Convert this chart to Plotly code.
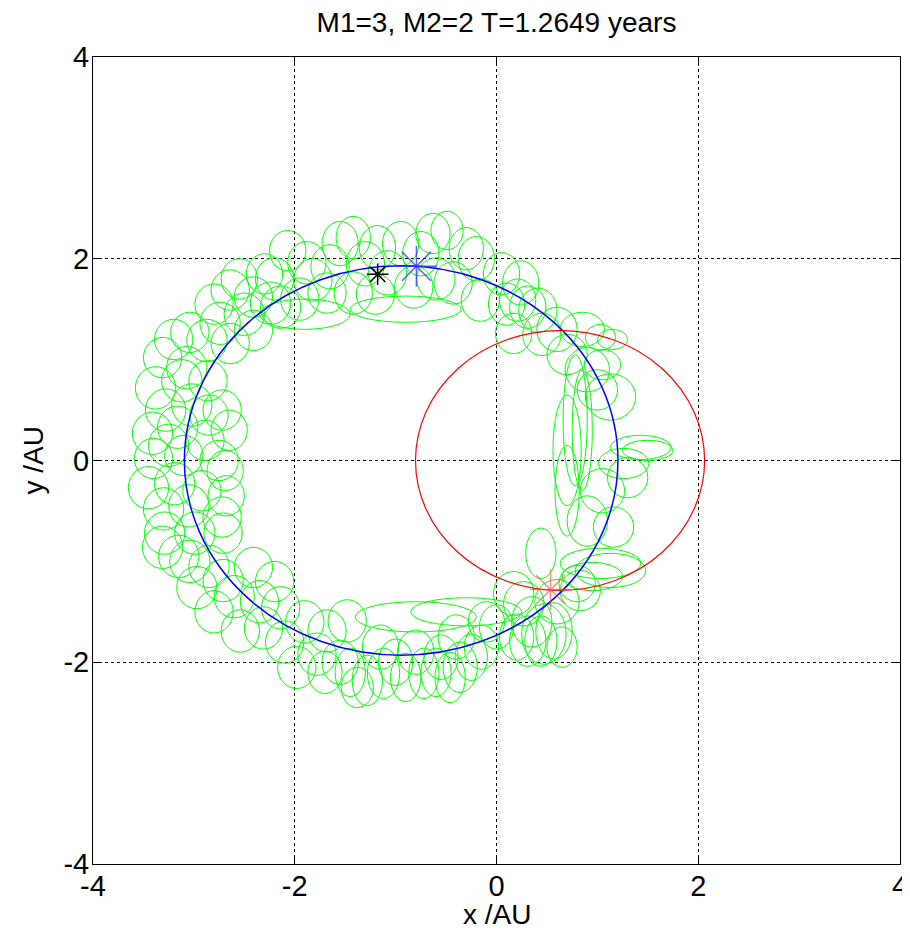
import plotly.graph_objects as go

# ---------------- data (units: AU) ----------------
TITLE = "M1=3, M2=2 T=1.2649 years"
TICKS = [-4, -2, 0, 2, 4]
TICK_LABELS = ["-4", "-2", "0", "2", "4"]

# star orbits (ellipses): centre x, centre y, semi-axis x, semi-axis y
ORBIT_NAMES = ["M2 orbit", "M1 orbit"]
ORBIT_CX = [-0.945, 0.63]
ORBIT_CY = [0.0, 0.0]
ORBIT_A = [2.149, 1.433]
ORBIT_B = [1.93, 1.287]
ORBIT_COLORS = ["#0000ff", "#ff0000"]

# current positions of the bodies: planet, M2, M1
BODY_X = [-1.178, -0.794, 0.536]
BODY_Y = [1.846, 1.925, -1.28]
BODY_COLORS = ["black", "rgba(40,40,255,0.75)", "rgba(255,60,60,0.6)"]

# planet trajectory loops (green): loop centre and half widths
LOOP_X = [
    -3.38, -3.12, -2.86, -3.41, -3.16, -2.89, -3.45, -3.19, -2.92, -2.69,
    -3.29, -2.99, -2.72, -2.72, -3.40, -3.10, -2.85,
    -3.31, -3.07, -3.04, -2.87, -2.74, -2.64, -2.64, -2.41, -2.41, -2.24,
    -2.14, -2.07, -1.88, -1.82, -1.68, -2.30,
    -1.65, -1.42, -1.42, -1.18, -1.08, -0.82, -0.63, -0.49, -0.43, -0.16,
    -0.20, 0.05, 0.24, 0.31, 0.17,
    0.21, 0.41, 0.60, 0.85, 1.03, 1.13, 0.90,
    0.78, 0.70, 1.43, 1.26, 1.30, 1.16, 1.05,
    1.03, 1.13, 0.83, 0.80, 0.27, 0.47, 0.57, 0.31, 0.44, 0.17, 0.44,
    -1.28, -1.12, -0.72, -0.46, -0.36, -1.00, -0.80, -0.55, -0.15, 0.00,
    -0.80, -0.30,
    -3.31, -3.04, -2.71, -2.97, -2.71, -2.41, -2.54, -2.31, -2.14, -1.98,
    -1.78, -1.68, -1.48, -1.38, -1.55,
    -0.90, -1.90,
    -2.75, -2.68, -2.65, -3.28, -3.30, -3.05, -3.02, -3.25, -3.20,
    -2.50, -2.20, -1.95, -2.55, -2.80,
    -1.55, -1.30, -0.95, -0.75, -0.30, -0.60, -1.20, 0.10, 0.45,
    1.15, 0.70, 1.00,
    0.85, 1.50, 1.05, 0.90, 0.70,
    0.95, 0.60, 0.35, 0.65, 0.20,
    -1.45, -0.90, -0.60, -0.25, -1.15, -0.40, -0.10,
    -3.15, -2.85, -2.60, -2.80, -2.35, -2.10, -1.90, -1.70, -2.20,
]
LOOP_Y = [
    0.72, 0.79, 0.79, 0.27, 0.33, 0.20, -0.27, -0.23, -0.30, -0.10,
    -0.72, -0.72, -0.56, 0.50, 0.02, 0.05, 0.45,
    1.02, 0.92, 1.27, 1.19, 1.36, 1.16, 1.69, 1.62, 1.29, 1.56,
    1.52, 2.08, 1.96, 1.79, 1.66, 1.85,
    1.92, 2.21, 1.66, 2.11, 1.86, 1.72, 2.25, 2.28, 1.76, 1.59,
    2.00, 1.85, 1.76, 1.52, 1.26,
    1.59, 1.49, 1.30, 1.30, 1.22, 0.63, 0.90,
    0.40, 0.10, 0.13, -0.03, -0.17, -0.66, 0.95,
    -1.02, -1.09, -1.29, -1.22, -1.42, -1.72, -1.69, -1.79, -1.79, -1.32, -0.92,
    -2.18, -2.11, -2.11, -2.15, -2.05, -2.00, -1.90, -1.95, -1.85, -1.65,
    -1.55, -1.50,
    -0.86, -1.00, -0.72, -1.26, -1.19, -1.06, -1.69, -1.66, -1.46, -2.05,
    -1.92, -1.69, -1.59, -2.25, -2.00,
    1.50, 1.45,
    0.00, -0.35, 0.30, 0.50, -0.48, -0.45, 0.55, 0.15, 1.20,
    1.45, 1.80, 1.60, 1.80, 1.55,
    2.15, 1.95, 2.15, 2.05, 2.10, 1.80, 1.65, 1.55, 1.25,
    1.20, 1.05, 0.70,
    0.30, 0.10, -0.30, -0.60, -0.30,
    -1.15, -1.40, -1.60, -1.85, -1.75,
    -2.10, -2.15, -2.10, -1.95, -1.85, -1.75, -1.60,
    -0.95, -1.05, -1.35, -1.50, -1.40, -1.80, -1.60, -2.10, -1.20,
]
LOOP_RX = [
    0.20, 0.20, 0.19, 0.20, 0.20, 0.19, 0.20, 0.20, 0.19, 0.18,
    0.20, 0.20, 0.19, 0.19, 0.19, 0.19, 0.19,
    0.19, 0.20, 0.19, 0.20, 0.20, 0.19, 0.19, 0.19, 0.19, 0.20,
    0.20, 0.18, 0.19, 0.19, 0.19, 0.18,
    0.19, 0.17, 0.19, 0.18, 0.19, 0.19, 0.17, 0.16, 0.19, 0.19,
    0.18, 0.18, 0.18, 0.18, 0.18,
    0.18, 0.19, 0.20, 0.22, 0.15, 0.25, 0.22,
    0.12, 0.14, 0.30, 0.25, 0.20, 0.20, 0.18,
    0.40, 0.35, 0.20, 0.18, 0.20, 0.22, 0.18, 0.18, 0.16, 0.20, 0.15,
    0.15, 0.16, 0.15, 0.15, 0.17, 0.17, 0.18, 0.17, 0.17, 0.17,
    0.60, 0.55,
    0.20, 0.20, 0.19, 0.20, 0.20, 0.19, 0.19, 0.19, 0.19, 0.19,
    0.19, 0.19, 0.19, 0.16, 0.18,
    0.55, 0.45,
    0.19, 0.18, 0.18, 0.20, 0.20, 0.20, 0.20, 0.20, 0.19,
    0.20, 0.19, 0.19, 0.18, 0.19,
    0.18, 0.19, 0.18, 0.18, 0.17, 0.19, 0.19, 0.18, 0.19,
    0.15, 0.20, 0.20,
    0.10, 0.25, 0.22, 0.20, 0.12,
    0.30, 0.22, 0.20, 0.15, 0.17,
    0.15, 0.15, 0.15, 0.16, 0.18, 0.18, 0.18,
    0.20, 0.20, 0.20, 0.19, 0.19, 0.19, 0.19, 0.17, 0.19,
]
LOOP_RY = [
    0.21, 0.21, 0.20, 0.21, 0.21, 0.20, 0.21, 0.21, 0.20, 0.20,
    0.21, 0.21, 0.20, 0.20, 0.20, 0.20, 0.20,
    0.20, 0.21, 0.20, 0.21, 0.21, 0.20, 0.20, 0.20, 0.20, 0.21,
    0.21, 0.20, 0.21, 0.21, 0.20, 0.20,
    0.22, 0.21, 0.21, 0.22, 0.22, 0.21, 0.20, 0.19, 0.21, 0.21,
    0.22, 0.21, 0.22, 0.21, 0.20,
    0.21, 0.22, 0.22, 0.17, 0.13, 0.23, 0.22,
    0.65, 0.55, 0.12, 0.15, 0.20, 0.20, 0.15,
    0.15, 0.17, 0.20, 0.18, 0.22, 0.30, 0.28, 0.25, 0.25, 0.22, 0.25,
    0.25, 0.25, 0.25, 0.25, 0.25, 0.23, 0.22, 0.22, 0.22, 0.22,
    0.15, 0.14,
    0.21, 0.21, 0.20, 0.21, 0.21, 0.20, 0.21, 0.21, 0.21, 0.21,
    0.21, 0.21, 0.21, 0.20, 0.22,
    0.13, 0.15,
    0.20, 0.20, 0.20, 0.21, 0.21, 0.21, 0.21, 0.21, 0.20,
    0.21, 0.21, 0.21, 0.20, 0.20,
    0.22, 0.22, 0.22, 0.22, 0.21, 0.21, 0.20, 0.21, 0.21,
    0.10, 0.20, 0.20,
    0.60, 0.10, 0.22, 0.25, 0.45,
    0.14, 0.22, 0.25, 0.20, 0.23,
    0.24, 0.24, 0.24, 0.23, 0.22, 0.22, 0.20,
    0.21, 0.21, 0.21, 0.21, 0.21, 0.21, 0.21, 0.21, 0.20,
]

# ---------------- figure ----------------
FONT = "Liberation Sans, Arial, sans-serif"
fig = go.Figure()

shapes = []
for x, y, rx, ry in zip(LOOP_X, LOOP_Y, LOOP_RX, LOOP_RY):
    shapes.append(dict(type="circle", xref="x", yref="y",
                       x0=x - rx, x1=x + rx, y0=y - ry, y1=y + ry,
                       line=dict(color="#00ff00", width=1), layer="between"))
for cx, cy, a, b, col in zip(ORBIT_CX, ORBIT_CY, ORBIT_A, ORBIT_B, ORBIT_COLORS):
    shapes.append(dict(type="circle", xref="x", yref="y",
                       x0=cx - a, x1=cx + a, y0=cy - b, y1=cy + b,
                       line=dict(color=col, width=1.5 if col == "#0000ff" else 1.2),
                       layer="between"))

# bodies
BODY_SIZES = [18, 34, 34]
for bx, by, col, sz in zip(BODY_X, BODY_Y, BODY_COLORS, BODY_SIZES):
    fig.add_trace(go.Scatter(x=[bx], y=[by], mode="markers",
                             marker=dict(symbol="asterisk-open", size=sz, color=col,
                                         line=dict(color=col, width=1.5)),
                             showlegend=False, hoverinfo="skip"))

axis_common = dict(
    range=[-4, 4], tickvals=TICKS, ticktext=TICK_LABELS,
    showgrid=True, gridcolor="black", gridwidth=1, griddash="3px,3px",
    zeroline=False, showline=True, linecolor="black", linewidth=1,
    mirror="ticks", ticks="inside", ticklen=7, tickcolor="black",
    tickfont=dict(family=FONT, size=29, color="black"),
    fixedrange=True, automargin=False,
)

# the page body adds an 8 px offset, so the figure is 8 px smaller
W, H = 902, 928
fig.update_layout(
    width=W, height=H,
    margin=dict(l=85, r=10, t=49, b=72, autoexpand=False),
    paper_bgcolor="white", plot_bgcolor="white",
    shapes=shapes,
    xaxis=dict(**axis_common, ticklabelstandoff=-4),
    yaxis=dict(**axis_common, ticklabelstandoff=-3),
    title=dict(text=TITLE, x=0.5, xref="paper", y=1 - 14 / H, yref="container",
               xanchor="center", yanchor="middle",
               font=dict(family=FONT, size=28, color="black")),
    annotations=[
        dict(text="x /AU", xref="paper", yref="paper", x=0.5, y=-50 / 807,
             xanchor="center", yanchor="middle", showarrow=False,
             font=dict(family=FONT, size=28, color="black")),
        dict(text="y /AU", xref="paper", yref="paper", x=-60 / 807, y=0.5,
             xanchor="center", yanchor="middle", showarrow=False, textangle=-90,
             font=dict(family=FONT, size=28, color="black")),
    ],
    showlegend=False,
)

fig.write_html("out.html")
